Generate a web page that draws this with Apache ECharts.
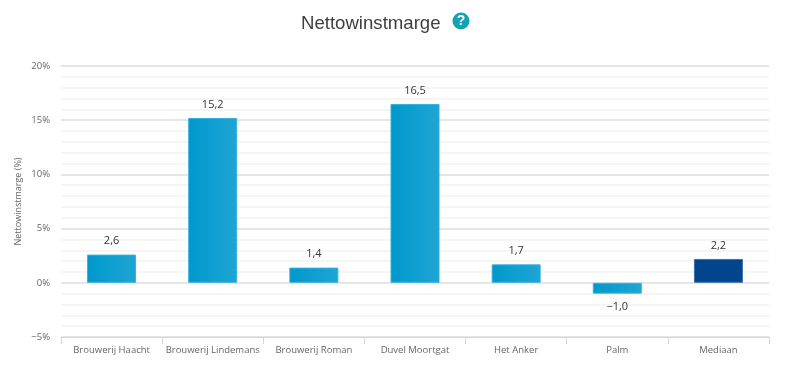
<!DOCTYPE html>
<html lang="nl">
<head>
    <meta charset="UTF-8">
    <title>Nettowinstmarge</title>
    <script src="https://fastly.jsdelivr.net/npm/echarts@6/dist/echarts.min.js"></script>
</head>
<body style="margin: 0; background: #fff">
<div id="container" style="width:803px;height:376px;"></div>
<script>
    var categories = ["Brouwerij Haacht", "Brouwerij Lindemans", "Brouwerij Roman", "Duvel Moortgat", "Het Anker", "Palm", "Mediaan"];
    var values = [2.6, 15.2, 1.4, 16.5, 1.7, -1.0, 2.2];
    var medianIndex = 6;

    var labelFont = '"Open Sans", "Noto Sans", sans-serif';

    function comma(v) {
        return v.toFixed(1).replace(".", ",").replace("-", "\u2212");
    }

    var blueBar = new echarts.graphic.LinearGradient(0, 0, 1, 0, [
        { offset: 0, color: "#0098cd" },
        { offset: 1, color: "#1ea6d4" }
    ]);

    var seriesData = values.map(function (v, i) {
        var median = i === medianIndex;
        return {
            value: v,
            itemStyle: {
                color: median ? "#00458e" : blueBar,
                borderColor: median ? "#3a70a8" : "#35b0dc",
                borderWidth: 1
            }
        };
    });

    var myChart = echarts.init(document.getElementById("container"), null, { renderer: "canvas" });

    var option = {
        animation: false,
        backgroundColor: "#fff",
        title: {
            text: "Nettowinstmarge",
            left: 296,
            top: 9,
            textStyle: { fontFamily: '"Liberation Sans", Arial, sans-serif', fontSize: 18.6, fontWeight: "normal", color: "#3f3f3f" }
        },
        graphic: [
            { type: "circle", shape: { cx: 461, cy: 21, r: 8.5 }, style: { fill: "#11a3b5" } },
            {
                type: "text", x: 461, y: 21.5,
                style: { text: "?", align: "center", verticalAlign: "middle", fill: "#fff", font: 'bold 14px "Liberation Sans", Arial, sans-serif' }
            }
        ],
        grid: { left: 61, right: 34, top: 66, bottom: 39 },
        xAxis: {
            type: "category",
            data: categories,
            axisLine: { onZero: false, lineStyle: { color: "#ccd6e4", width: 1 } },
            axisTick: { show: true, length: 7, alignWithLabel: false, lineStyle: { color: "#ccd6e4" } },
            axisLabel: { color: "#666", fontFamily: labelFont, fontSize: 9.5, margin: 8, interval: 0 }
        },
        yAxis: {
            type: "value",
            min: -5,
            max: 20,
            interval: 5,
            name: "Nettowinstmarge (%)",
            nameLocation: "middle",
            nameGap: 38,
            nameMoveOverlap: false,
            nameTextStyle: { color: "#666", fontFamily: labelFont, fontSize: 9 },
            axisLine: { show: false },
            axisTick: { show: false },
            axisLabel: {
                color: "#666", fontFamily: labelFont, fontSize: 9.5, margin: 11,
                formatter: function (v) { return String(v).replace("-", "\u2212") + "%"; }
            },
            splitLine: { lineStyle: { color: "#e6e6e6", width: 2 } },
            minorTick: { show: false, splitNumber: 5 },
            minorSplitLine: { show: true, lineStyle: { color: "#f2f2f2", width: 1.5 } }
        },
        series: [{
            type: "bar",
            data: seriesData,
            barWidth: 49,
            z: 3,
            label: {
                show: true,
                position: "outside",
                distance: 8,
                color: "#333",
                fontFamily: labelFont,
                fontSize: 11,
                formatter: function (p) { return comma(p.value); }
            }
        }]
    };
    myChart.setOption(option);
</script>
</body>
</html>
